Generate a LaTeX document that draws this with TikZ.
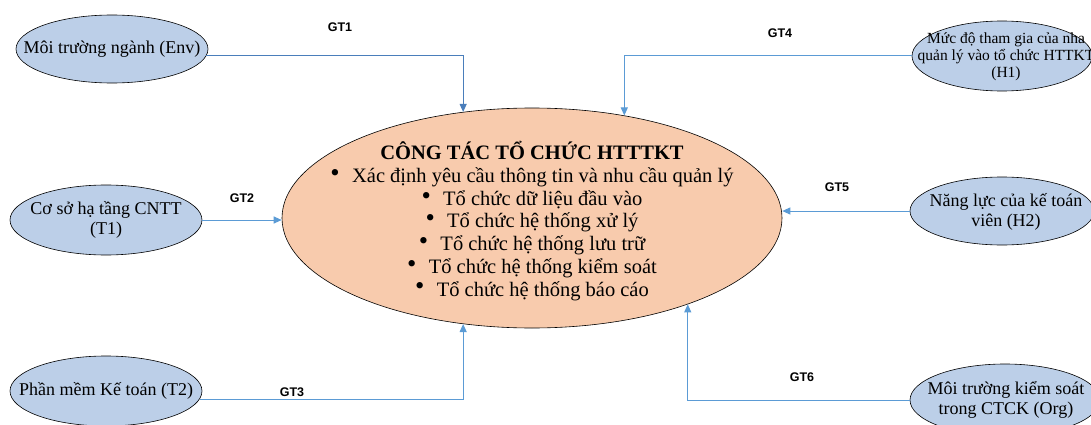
\documentclass[tikz,border=0pt]{standalone}
\usepackage{fontspec}
\setmainfont{Liberation Serif}
\newfontfamily\labelfont{Liberation Sans}
\usetikzlibrary{shapes.geometric,arrows.meta}
\definecolor{factorfill}{HTML}{BCCFE8}
\definecolor{corefill}{HTML}{F8CBAD}
\definecolor{linkblue}{HTML}{5B9BD5}
\definecolor{linkdark}{HTML}{4A7EBB}
\tikzset{
  factor/.style={ellipse, draw=black, line width=0.6pt, fill=factorfill, inner sep=0pt},
  core/.style={ellipse, draw=black, line width=0.6pt, fill=corefill, inner sep=0pt,
    minimum width=500pt, minimum height=220pt},
  factortext/.style={align=center, font=\fontsize{18}{20.5}\selectfont, inner sep=0pt},
  coretext/.style={align=center, font=\fontsize{20.5}{22.7}\selectfont, inner sep=0pt},
  gt/.style={font=\labelfont\bfseries\fontsize{12.5}{14}\selectfont, inner sep=0pt},
  link/.style={draw=linkblue, line width=1pt, -{Triangle[length=8pt,width=7pt]}},
}
\newcommand{\bul}[1]{\raisebox{0.05em}{\scalebox{1.3}{\textbullet}}\hspace{0.6em}#1}
\begin{document}
\begin{tikzpicture}[x=1pt,y=-1pt]
\path[use as bounding box] (0,0) rectangle (1091,425);
\clip (0,0) rectangle (1091,425);

% central process
\node[core] (main) at (532,218) {};
\node[coretext] (maintext) at (532,221) {%
  \textbf{CÔNG TÁC TỔ CHỨC HTTTKT}\\
  \bul{Xác định yêu cầu thông tin và nhu cầu quản lý}\\
  \bul{Tổ chức dữ liệu đầu vào}\\
  \bul{Tổ chức hệ thống xử lý}\\
  \bul{Tổ chức hệ thống lưu trữ}\\
  \bul{Tổ chức hệ thống kiểm soát}\\
  \bul{Tổ chức hệ thống báo cáo}};

% influencing factors
\node[factor, minimum width=192pt, minimum height=68pt] (env) at (112,49) {};
\node[factortext] (envtext) at (env) {Môi trường ngành (Env)};

\node[factor, minimum width=192pt, minimum height=70pt] (t1) at (106,220) {};
\node[factortext] (t1text) at (t1) {Cơ sở hạ tầng CNTT\\(T1)};

\node[factor, minimum width=192pt, minimum height=70pt] (t2) at (106,391) {};
\node[factortext] (t2text) at (t2) {Phần mềm Kế toán (T2)};

\node[factor, minimum width=180pt, minimum height=70pt] (h1) at (1002,56) {};
\node[align=center, font=\fontsize{15.5}{17}\selectfont, inner sep=0pt] (h1text) at (1006,57)
  {Mức độ tham gia của nha\\quản lý vào tổ chức HTTKT\\(H1)};

\node[factor, minimum width=184pt, minimum height=68pt] (h2) at (1002,211) {};
\node[factortext] (h2text) at (1006,212) {Năng lực của kế toán\\viên (H2)};

\node[factor, minimum width=190pt, minimum height=72pt] (org) at (1005,400) {};
\node[factortext] (orgtext) at (1006,400) {Môi trường kiểm soát\\trong CTCK (Org)};

% connectors
\draw[link, draw=linkdark] (env.-4) -| (main.123);
\draw[link] (h1.west) -| (main.48.7);
\draw[link] (t1.east) -- (main.west |- t1.east);
\draw[link] (h2.west) -- (main.east |- h2.west);
\draw[link] (t2.-5) -| (main.-123);
\draw[link] (org.west) -| (main.-29.4);

% connector labels
\node[gt] (gt1) at (340,27) {GT1};
\node[gt] (gt2) at (242,198) {GT2};
\node[gt] (gt3) at (292,392) {GT3};
\node[gt] (gt4) at (780,33) {GT4};
\node[gt] (gt5) at (837,187) {GT5};
\node[gt] (gt6) at (802,377) {GT6};
\end{tikzpicture}
\end{document}
